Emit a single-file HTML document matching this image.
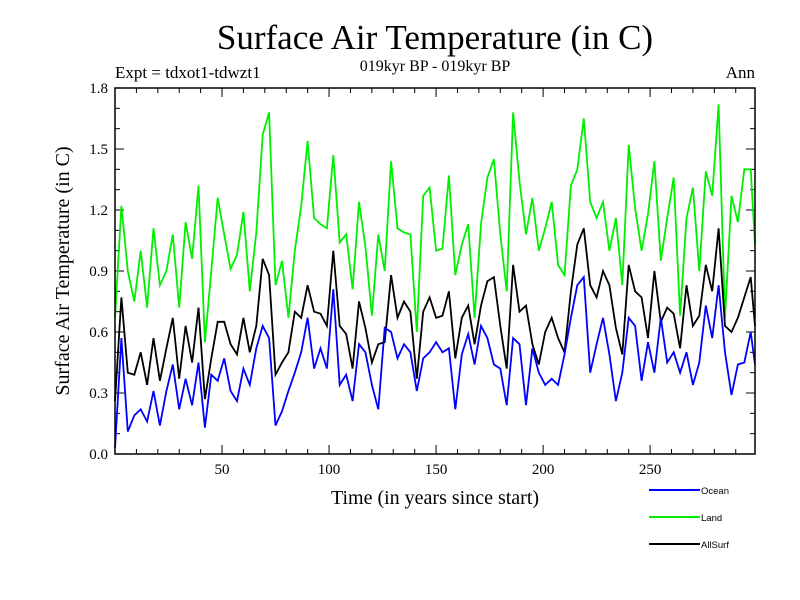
<!DOCTYPE html>
<html><head><meta charset="utf-8"><style>
body{margin:0;background:#fff}
svg{display:block}
.serif{font-family:"Liberation Serif",serif}
.sans{font-family:"Liberation Sans",sans-serif}
</style></head><body>
<svg id="chart" width="800" height="600" viewBox="0 0 800 600">
<text class="serif" x="435" y="49" font-size="35" text-anchor="middle">Surface Air Temperature (in C)</text>
<text class="serif" x="115" y="78" font-size="17">Expt = tdxot1-tdwzt1</text>
<text class="serif" x="435" y="71" font-size="16" text-anchor="middle">019kyr BP - 019kyr BP</text>
<text class="serif" x="755" y="78" font-size="17" text-anchor="end">Ann</text>
<text class="serif" x="0" y="0" font-size="20" text-anchor="middle" transform="translate(69,271) rotate(-90)">Surface Air Temperature (in C)</text>
<text class="serif" x="435" y="504" font-size="20" text-anchor="middle">Time (in years since start)</text>
<g id="axes"></g>
<g id="series"></g>
<rect x="115" y="88" width="640" height="366" fill="none" stroke="#000" stroke-width="1.5"/>
<g>
<line x1="649" y1="490" x2="700" y2="490" stroke="#0000ff" stroke-width="2"/>
<text class="sans" x="701" y="494" font-size="9.5">Ocean</text>
<line x1="649" y1="517" x2="700" y2="517" stroke="#00ee00" stroke-width="2"/>
<text class="sans" x="701" y="521" font-size="9.5">Land</text>
<line x1="649" y1="544" x2="700" y2="544" stroke="#000" stroke-width="2"/>
<text class="sans" x="701" y="548" font-size="9.5">AllSurf</text>
</g>
</svg>
<script>
const years=[0,3,6,9,12,15,18,21,24,27,30,33,36,39,42,45,48,51,54,57,60,63,66,69,72,75,
78,81,84,87,90,93,96,99,102,105,108,111,114,117,120,123,126,129,132,135,138,141,144,147,150,
153,156,159,162,165,168,171,174,177,180,183,186,189,192,195,198,201,204,207,210,213,216,219,222,225,
228,231,234,237,240,243,246,249,252,255,258,261,264,267,270,273,276,279,282,285,288,291,294,297,299];
const land=[0.67,1.22,0.90,0.75,1.0,0.72,1.11,0.83,0.90,1.08,0.72,1.14,0.96,1.32,0.55,0.90,1.26,1.08,0.91,0.98,1.19,0.80,1.09,1.57,1.68,0.83,
0.95,0.67,1.0,1.22,1.54,1.16,1.13,1.11,1.47,1.04,1.08,0.81,1.24,1.02,0.68,1.08,0.90,1.44,1.11,1.09,1.08,0.60,1.27,1.31,1.0,
1.01,1.37,0.88,1.03,1.13,0.67,1.13,1.36,1.45,1.08,0.80,1.68,1.34,1.08,1.26,1.0,1.11,1.24,0.93,0.88,1.32,1.40,1.65,1.24,1.16,
1.24,1.0,1.16,0.83,1.52,1.21,1.0,1.18,1.44,0.95,1.16,1.36,0.68,1.16,1.31,0.90,1.39,1.27,1.72,0.67,1.27,1.14,1.40,1.40,1.03];
const allsurf=[0.26,0.77,0.40,0.39,0.50,0.34,0.57,0.36,0.52,0.67,0.37,0.63,0.45,0.72,0.27,0.47,0.65,0.65,0.54,0.49,0.67,0.50,0.63,0.96,0.88,0.39,
0.45,0.50,0.70,0.67,0.83,0.70,0.69,0.63,1.0,0.63,0.59,0.42,0.75,0.62,0.45,0.54,0.55,0.88,0.67,0.75,0.70,0.37,0.70,0.77,0.67,
0.68,0.80,0.47,0.67,0.73,0.54,0.73,0.85,0.87,0.63,0.42,0.93,0.70,0.73,0.54,0.44,0.60,0.67,0.57,0.50,0.80,1.03,1.11,0.83,0.77,
0.90,0.83,0.62,0.49,0.93,0.80,0.77,0.57,0.90,0.65,0.72,0.69,0.52,0.83,0.63,0.68,0.93,0.80,1.11,0.63,0.60,0.67,0.77,0.87,0.63];
const ocean=[0.03,0.57,0.11,0.19,0.22,0.16,0.31,0.14,0.31,0.44,0.22,0.37,0.24,0.45,0.13,0.39,0.36,0.47,0.31,0.26,0.42,0.34,0.52,0.63,0.57,0.14,
0.21,0.31,0.40,0.50,0.67,0.42,0.52,0.42,0.81,0.34,0.39,0.26,0.54,0.50,0.34,0.22,0.62,0.60,0.47,0.54,0.50,0.31,0.47,0.50,0.55,
0.50,0.52,0.22,0.49,0.59,0.44,0.63,0.57,0.44,0.42,0.24,0.57,0.54,0.24,0.52,0.40,0.34,0.37,0.34,0.49,0.67,0.83,0.87,0.40,0.54,
0.67,0.49,0.26,0.40,0.67,0.63,0.36,0.55,0.40,0.67,0.45,0.50,0.40,0.50,0.34,0.45,0.73,0.57,0.83,0.50,0.29,0.44,0.45,0.60,0.44];
const yTicks=[0.0,0.3,0.6,0.9,1.2,1.5,1.8];
const yTickLabels=["0.0","0.3","0.6","0.9","1.2","1.5","1.8"];
const xTicks=[50,100,150,200,250];
const NS="http://www.w3.org/2000/svg";
const X0=115,X1=755,Y0=454,Y1=88,XMAX=299,YMAX=1.8;
function xs(v){return X0+(v)/XMAX*(X1-X0);}
function ys(v){return Y0-v/YMAX*(Y0-Y1);}
const axes=document.getElementById('axes');
function mk(tag,attrs,parent){const e=document.createElementNS(NS,tag);for(const k in attrs)e.setAttribute(k,attrs[k]);parent.appendChild(e);return e;}
for(let v=0.1;v<1.8;v+=0.1){
  const y=ys(v);const maj=Math.abs(v/0.3-Math.round(v/0.3))<0.01;const len=maj?9:5;
  const t1=mk('line',{x1:X0,x2:X0+len,y1:y,y2:y,stroke:'#000','stroke-width':1},axes);
  
  
  const t2=mk('line',{x1:X1,x2:X1-len,y1:y,y2:y,stroke:'#000','stroke-width':1},axes);
  
  
}
yTicks.forEach((v,i)=>{
  const t=mk('text',{x:X0-7,y:ys(v)+5,'font-size':15,'text-anchor':'end','class':'serif'},axes);
  t.textContent=yTickLabels[i];
  
  
});
for(let v=10;v<300;v+=10){
  const x=xs(v);const len=(v%50===0)?9:5;
  const t1=mk('line',{x1:x,x2:x,y1:Y0,y2:Y0-len,stroke:'#000','stroke-width':1},axes);
  
  
  const t2=mk('line',{x1:x,x2:x,y1:Y1,y2:Y1+len,stroke:'#000','stroke-width':1},axes);
  
  
}
xTicks.forEach(v=>{
  const t=mk('text',{x:xs(v),y:Y0+20,'font-size':15,'text-anchor':'middle','class':'serif'},axes);
  t.textContent=String(v);
  
  
});
const series=document.getElementById('series');
function draw(vals,color,name){
  const pts=vals.map((v,i)=>xs(years[i]).toFixed(1)+','+ys(v).toFixed(1)).join(' ');
  const p=mk('polyline',{points:pts,fill:'none',stroke:color,'stroke-width':1.8,'stroke-linejoin':'miter'},series);
  
  
}
draw(land,'#00ee00','land-line');
draw(allsurf,'#000000','allsurf-line');
draw(ocean,'#0000ff','ocean-line');
</script>
</body></html>
